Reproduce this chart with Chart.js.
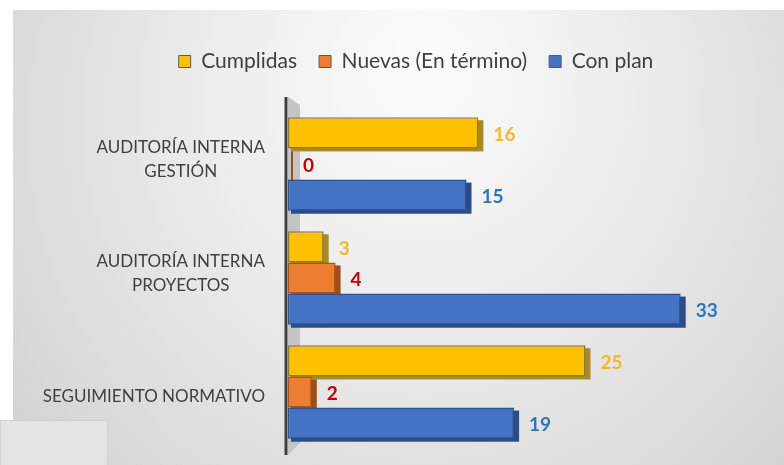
<!DOCTYPE html>
<html lang="es">
<head>
    <meta charset="UTF-8">
    <title>Auditorías</title>
    <script src="https://cdn.jsdelivr.net/npm/chart.js"></script>
    <style>
        body { margin: 0; background: #ffffff; }
        #wrap { width: 784px; height: 465px; }
    </style>
</head>
<body>
    <div id="wrap">
        <canvas id="auditChart" width="784" height="465"></canvas>
    </div>
    <script>
        // data
        const categories = [
            ['AUDITORÍA INTERNA', 'GESTIÓN'],
            ['AUDITORÍA INTERNA', 'PROYECTOS'],
            ['SEGUIMIENTO NORMATIVO']
        ];
        const seriesNames = ['Cumplidas', 'Nuevas (En término)', 'Con plan'];
        const cumplidas = [16, 3, 25];
        const nuevas = [0, 4, 2];
        const conPlan = [15, 33, 19];

        const fillColors = ['#FFC000', '#ED7D31', '#4472C4'];
        const edgeColors = ['#8C7A3C', '#A9561E', '#2F528F'];
        const depthColors = ['#A88A2A', '#9B4F1C', '#2B4C87'];
        const labelColors = ['#F2B731', '#C00000', '#2E75B6'];

        const FONT = 'Lato, "Open Sans", sans-serif';

        // grey panel behind the chart
        const backgroundPlugin = {
            id: 'panelBg',
            beforeDraw(chart) {
                const ctx = chart.ctx;
                ctx.save();
                ctx.fillStyle = '#ffffff';
                ctx.fillRect(0, 0, chart.width, chart.height);
                const g = ctx.createRadialGradient(420, 60, 20, 420, 160, 560);
                g.addColorStop(0, '#fbfbfb');
                g.addColorStop(0.5, '#e6e6e6');
                g.addColorStop(1, '#cdcdcd');
                ctx.fillStyle = g;
                ctx.fillRect(13, 10, chart.width - 13, chart.height - 10);
                // lighter box bottom left
                ctx.fillStyle = '#e4e4e4';
                ctx.fillRect(0, 420, 107, 45);
                ctx.strokeStyle = '#d2d2d2';
                ctx.lineWidth = 1;
                ctx.strokeRect(0.5, 420.5, 107, 45);
                // side wall next to the axis
                const area = chart.chartArea;
                ctx.fillStyle = '#c4c4c4';
                ctx.beginPath();
                ctx.moveTo(area.left, area.top - 10);
                ctx.lineTo(area.left + 12, area.top - 2);
                ctx.lineTo(area.left + 12, area.bottom - 6);
                ctx.lineTo(area.left, area.bottom + 6);
                ctx.closePath();
                ctx.fill();
                // axis wall edge
                ctx.strokeStyle = '#404040';
                ctx.lineWidth = 3;
                ctx.beginPath();
                ctx.moveTo(area.left - 2, area.top - 10);
                ctx.lineTo(area.left - 2, area.bottom + 6);
                ctx.stroke();
                ctx.restore();
            }
        };

        // darker extrusion under each bar for the 3d look
        const depthPlugin = {
            id: 'barDepth',
            beforeDatasetsDraw(chart) {
                const ctx = chart.ctx;
                ctx.save();
                chart.data.datasets.forEach((ds, i) => {
                    const meta = chart.getDatasetMeta(i);
                    meta.data.forEach(bar => {
                        const h = bar.height;
                        const x0 = Math.min(bar.base, bar.x);
                        const w = Math.abs(bar.x - bar.base);
                        ctx.fillStyle = depthColors[i];
                        ctx.fillRect(x0 + 3, bar.y - h / 2 + 3, w + 2, h);
                    });
                });
                ctx.restore();
            }
        };

        // value labels at the end of the bars
        const valueLabels = {
            id: 'valueLabels',
            afterDatasetsDraw(chart) {
                const ctx = chart.ctx;
                ctx.save();
                ctx.font = 'bold 19px ' + FONT;
                ctx.textBaseline = 'middle';
                ctx.textAlign = 'left';
                chart.data.datasets.forEach((ds, i) => {
                    const meta = chart.getDatasetMeta(i);
                    meta.data.forEach((bar, j) => {
                        ctx.fillStyle = labelColors[i];
                        ctx.fillText(ds.data[j], bar.x + 15, bar.y + 2);
                    });
                });
                ctx.restore();
            }
        };

        // category names: block right aligned, lines centred inside the block
        const categoryLabels = {
            id: 'categoryLabels',
            afterDraw(chart) {
                const ctx = chart.ctx;
                const yScale = chart.scales.y;
                const right = chart.chartArea.left - 23;
                ctx.save();
                ctx.font = '17px ' + FONT;
                ctx.fillStyle = '#404040';
                ctx.textAlign = 'center';
                ctx.textBaseline = 'middle';
                chart.data.labels.forEach((lines, i) => {
                    const yc = yScale.getPixelForValue(i);
                    const blockW = Math.max(...lines.map(t => ctx.measureText(t).width));
                    const cx = right - blockW / 2;
                    const shift = lines.length > 1 ? -4 : 5;
                    const top = yc - (lines.length - 1) * 24 / 2 + shift;
                    lines.forEach((t, k) => ctx.fillText(t, cx, top + k * 24));
                });
                ctx.restore();
            }
        };

        // extra room under the legend
        const legendGap = {
            id: 'legendGap',
            beforeInit(chart) {
                if (!chart.legend) return;
                const fit = chart.legend.fit;
                chart.legend.fit = function () {
                    fit.bind(chart.legend)();
                    this.height += 25;
                };
            }
        };

        const ctx = document.getElementById('auditChart').getContext('2d');
        new Chart(ctx, {
            type: 'bar',
            data: {
                labels: categories,
                datasets: [cumplidas, nuevas, conPlan].map((vals, i) => ({
                    label: seriesNames[i],
                    data: vals,
                    backgroundColor: fillColors[i],
                    borderColor: edgeColors[i],
                    borderWidth: 1.5,
                    borderSkipped: false,
                    categoryPercentage: 0.82,
                    barPercentage: 1.0
                }))
            },
            options: {
                indexAxis: 'y',
                responsive: false,
                animation: false,
                layout: {
                    padding: { top: 29, right: 20, bottom: 16, left: 68 }
                },
                scales: {
                    x: {
                        display: false,
                        min: 0,
                        max: 40
                    },
                    y: {
                        grid: { display: false },
                        border: { display: false },
                        ticks: { display: false },
                        afterFit(axis) {
                            axis.width = 220;
                        }
                    }
                },
                plugins: {
                    legend: {
                        position: 'top',
                        labels: {
                            color: '#404040',
                            boxWidth: 12,
                            boxHeight: 12,
                            padding: 22,
                            font: { family: FONT, size: 21 },
                            generateLabels(chart) {
                                return chart.data.datasets.map((ds, i) => ({
                                    text: ds.label,
                                    fillStyle: fillColors[i],
                                    strokeStyle: '#595959',
                                    lineWidth: 1,
                                    datasetIndex: i,
                                    fontColor: '#404040'
                                }));
                            }
                        }
                    },
                    tooltip: { enabled: false }
                }
            },
            plugins: [backgroundPlugin, depthPlugin, valueLabels, categoryLabels, legendGap]
        });
    </script>
</body>
</html>
